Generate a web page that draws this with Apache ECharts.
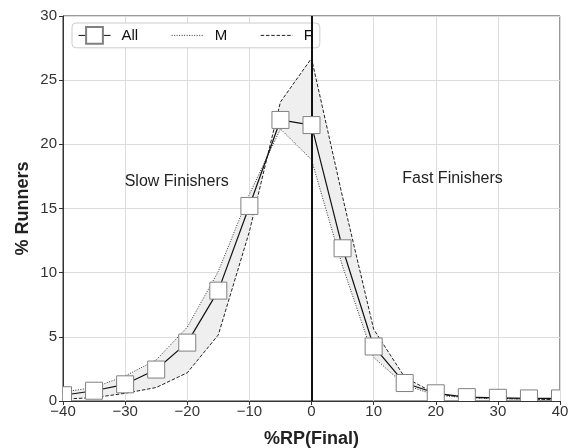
<!DOCTYPE html>
<html>
<head>
<meta charset="utf-8">
<script src="https://cdn.jsdelivr.net/npm/echarts@6/dist/echarts.min.js"></script>
<style>html,body{margin:0;padding:0;background:#fff}#c{width:576px;height:448px}</style>
</head>
<body>
<div id="c"></div>
<script>
const xValues = [-40,-35,-30,-25,-20,-15,-10,-5,0,5,10,15,20,25,30,35,40];
const allShare = [0.45,0.8,1.3,2.45,4.55,8.6,15.2,21.9,21.5,11.9,4.25,1.4,0.6,0.3,0.25,0.2,0.2];
const maleShare = [0.7,1.05,1.95,3.2,5.75,10.1,16.1,21.2,18.8,10.5,3.4,1.25,0.45,0.25,0.18,0.14,0.1];
const femaleShare = [0.15,0.26,0.6,1.05,2.2,5.15,13.2,23.3,26.7,15.9,5.6,1.85,0.55,0.28,0.2,0.15,0.1];
const xTicks = [-40,-30,-20,-10,0,10,20,30,40];
const yTicks = [0,5,10,15,20,25,30];
const annotations = [
  {name: 'Slow Finishers', coord: [-21.7, 17.1]},
  {name: 'Fast Finishers', coord: [22.7, 17.3]}
];

const fontFamily = '"Liberation Sans", Arial, Helvetica, sans-serif';
const pairs = (ys) => xValues.map((x, i) => [x, ys[i]]);
const fmt = (v) => v < 0 ? '\u2212' + Math.abs(v) : String(v);
const hidden = {color: 'rgba(0,0,0,0)', borderWidth: 0, borderColor: 'rgba(0,0,0,0)'};

const chart = echarts.init(document.getElementById('c'), null, {renderer: 'canvas'});
chart.setOption({
  animation: false,
  textStyle: {fontFamily: fontFamily},
  grid: {left: 63, right: 16, top: 16, bottom: 47, containLabel: false, outerBoundsMode: 'none',
    show: true, borderColor: '#333', borderWidth: 1, backgroundColor: 'transparent'},
  legend: {
    data: ['All', 'M', 'F'],
    left: 72, top: 23,
    padding: [3, 7, 3, 6],
    itemWidth: 32, itemHeight: 21, itemGap: 33,
    borderColor: '#cccccc', borderWidth: 1, borderRadius: 4,
    backgroundColor: '#ffffff',
    lineStyle: {width: 1},
    textStyle: {fontSize: 15, color: '#111', fontFamily: fontFamily, padding: [0, 0, 0, 6]}
  },
  xAxis: {
    type: 'value', min: -40, max: 40, interval: 10,
    name: '%RP(Final)', nameLocation: 'middle', nameGap: 29, nameMoveOverlap: false,
    nameTextStyle: {fontSize: 18, fontWeight: 'bold', color: '#222', fontFamily: fontFamily},
    axisLine: {show: true, onZero: false, lineStyle: {color: '#333', width: 1}},
    axisTick: {show: true, inside: false, length: 4, lineStyle: {color: '#333'}},
    axisLabel: {fontSize: 15, color: '#333', margin: 3, formatter: fmt, customValues: xTicks},
    splitLine: {show: true, lineStyle: {color: '#dcdcdc', width: 1}}
  },
  yAxis: {
    type: 'value', min: 0, max: 30, interval: 5,
    name: '% Runners', nameLocation: 'middle', nameGap: 31, nameMoveOverlap: false,
    nameTextStyle: {fontSize: 18, fontWeight: 'bold', color: '#222', fontFamily: fontFamily},
    axisLine: {show: true, onZero: false, lineStyle: {color: '#333', width: 1}},
    axisTick: {show: true, inside: false, length: 4, lineStyle: {color: '#333'}},
    axisLabel: {fontSize: 15, color: '#333', margin: 6, formatter: fmt, customValues: yTicks},
    splitLine: {show: true, lineStyle: {color: '#dcdcdc', width: 1}}
  },
  series: [
    {
      type: 'custom', name: 'band', z: 1, clip: true, silent: true,
      data: [[0, 0]],
      renderItem: function (params, api) {
        if (params.dataIndex !== 0) return null;
        const pts = [];
        for (let i = 0; i < xValues.length; i++) pts.push(api.coord([xValues[i], maleShare[i]]));
        for (let i = xValues.length - 1; i >= 0; i--) pts.push(api.coord([xValues[i], femaleShare[i]]));
        return {type: 'polygon', shape: {points: pts}, style: {fill: '#efefef', stroke: null}};
      }
    },
    {
      type: 'line', name: 'M', z: 2, data: pairs(maleShare), symbol: 'none', clip: true,
      itemStyle: hidden,
      lineStyle: {color: '#333', width: 1, type: [1, 1.5]}
    },
    {
      type: 'line', name: 'F', z: 2, data: pairs(femaleShare), symbol: 'none', clip: true,
      itemStyle: hidden,
      lineStyle: {color: '#222', width: 1, type: [3.5, 1.8]}
    },
    {
      type: 'line', name: 'All', z: 3, data: pairs(allShare), clip: true,
      symbol: 'rect', symbolSize: 17, showSymbol: false,
      itemStyle: {color: '#ffffff', borderColor: '#808080', borderWidth: 1},
      lineStyle: {color: '#111', width: 1.2, type: 'solid'},
      markLine: {
        silent: true, symbol: 'none', animation: false,
        label: {show: false},
        lineStyle: {color: '#111', width: 2, type: 'solid'},
        data: [{xAxis: 0}]
      },
      markPoint: {
        silent: true, symbol: 'rect', symbolSize: 1,
        itemStyle: {color: 'transparent'},
        label: {show: true, position: 'inside', formatter: '{b}', fontSize: 16, color: '#222', fontFamily: fontFamily},
        data: annotations.map(a => ({name: a.name, coord: a.coord}))
      }
    },
    {
      type: 'custom', name: 'All markers', z: 5, clip: true, silent: true,
      data: pairs(allShare),
      encode: {x: 0, y: 1},
      renderItem: function (params, api) {
        const p = api.coord([api.value(0), api.value(1)]);
        return {type: 'rect', shape: {x: p[0] - 8.5, y: p[1] - 8.5, width: 17, height: 17},
          style: {fill: '#ffffff', stroke: '#808080', lineWidth: 1}};
      }
    }
  ]
});
</script>
</body>
</html>
